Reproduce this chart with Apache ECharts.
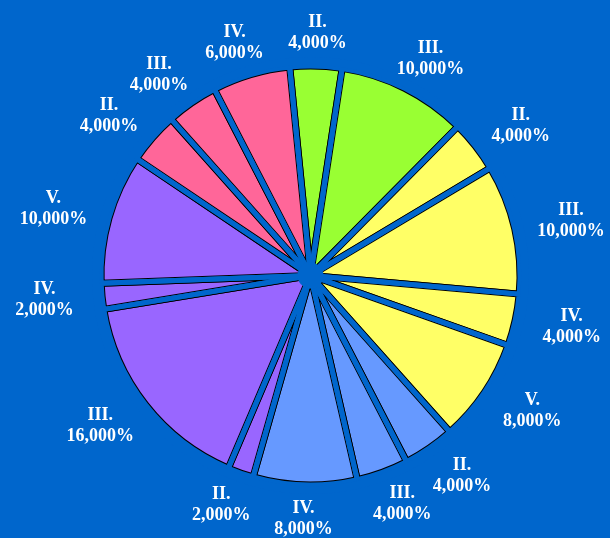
<!DOCTYPE html>
<html>
<head>
<meta charset="utf-8">
<script src="https://cdn.jsdelivr.net/npm/echarts@6/dist/echarts.min.js"></script>
<style>
  html, body { margin: 0; padding: 0; background: #0066cc; }
  #chart { width: 610px; height: 538px; }
</style>
</head>
<body>
<div id="chart"></div>
<script>
// slices, clockwise from the top
const sliceNames = ['II.', 'III.', 'II.', 'III.', 'IV.', 'V.', 'II.', 'III.', 'IV.', 'II.', 'III.', 'IV.', 'V.', 'II.', 'III.', 'IV.'];
const sliceValues = [4000, 10000, 4000, 10000, 4000, 8000, 4000, 4000, 8000, 2000, 16000, 2000, 10000, 4000, 4000, 6000];
const sliceGroups = [0, 0, 1, 1, 1, 1, 2, 2, 2, 3, 3, 3, 3, 4, 4, 4];

const groupColors = ['#99ff33', '#ffff66', '#6699ff', '#9966ff', '#ff6699'];
const BG = '#0066cc';
const CENTER = [310.5, 275.5];
const R = 209.5;
const START = 95.7;

const chart = echarts.init(document.getElementById('chart'), null, { renderer: 'canvas' });

function sliceData(colorFn) {
    return sliceValues.map((v, i) => ({
        name: sliceNames[i],
        value: v,
        itemStyle: { color: colorFn(i) }
    }));
}

const common = {
    type: 'pie',
    center: CENTER,
    startAngle: START,
    clockwise: true,
    silent: true,
    animation: false,
    avoidLabelOverlap: false,
    emphasis: { disabled: true },
    labelLine: { show: false }
};

chart.setOption({
    backgroundColor: BG,
    animation: false,
    series: [
        // coloured slices with a black edge
        Object.assign({}, common, {
            z: 1,
            radius: [0, R],
            label: { show: false },
            itemStyle: { borderColor: '#000', borderWidth: 7, borderJoin: 'round' },
            data: sliceData(i => groupColors[sliceGroups[i]])
        }),
        // blue gaps between slices
        Object.assign({}, common, {
            z: 2,
            radius: [0, R],
            label: { show: false },
            itemStyle: { borderColor: BG, borderWidth: 5, borderJoin: 'round' },
            data: sliceData(() => 'rgba(0,0,0,0)')
        }),
        // trim the outer edge
        Object.assign({}, common, {
            z: 3,
            radius: [R + 1.2, R + 9],
            label: { show: false },
            itemStyle: { color: BG, borderWidth: 0 },
            data: [{ value: 1 }]
        }),
        // hub
        Object.assign({}, common, {
            z: 3,
            radius: [0, 13],
            label: { show: false },
            itemStyle: { color: BG, borderWidth: 0 },
            data: [{ value: 1 }]
        }),
        // labels
        Object.assign({}, common, {
            z: 5,
            radius: [224, 256],
            itemStyle: { borderWidth: 0 },
            label: {
                show: true,
                position: 'inside',
                color: '#fff',
                fontFamily: '"Liberation Serif", "Times New Roman", serif',
                fontWeight: 'bold',
                fontSize: 18,
                lineHeight: 21,
                align: 'center',
                textBorderWidth: 0,
                formatter: p => p.name + '\n' + p.value.toLocaleString('en-US') + '%'
            },
            labelLayout: function (params) {
                const r = params.labelRect;
                const lx = r.x + r.width / 2;
                return { dx: (lx - CENTER[0]) * 0.1 };
            },
            data: sliceData(() => 'rgba(0,0,0,0)')
        })
    ]
});
</script>
</body>
</html>
